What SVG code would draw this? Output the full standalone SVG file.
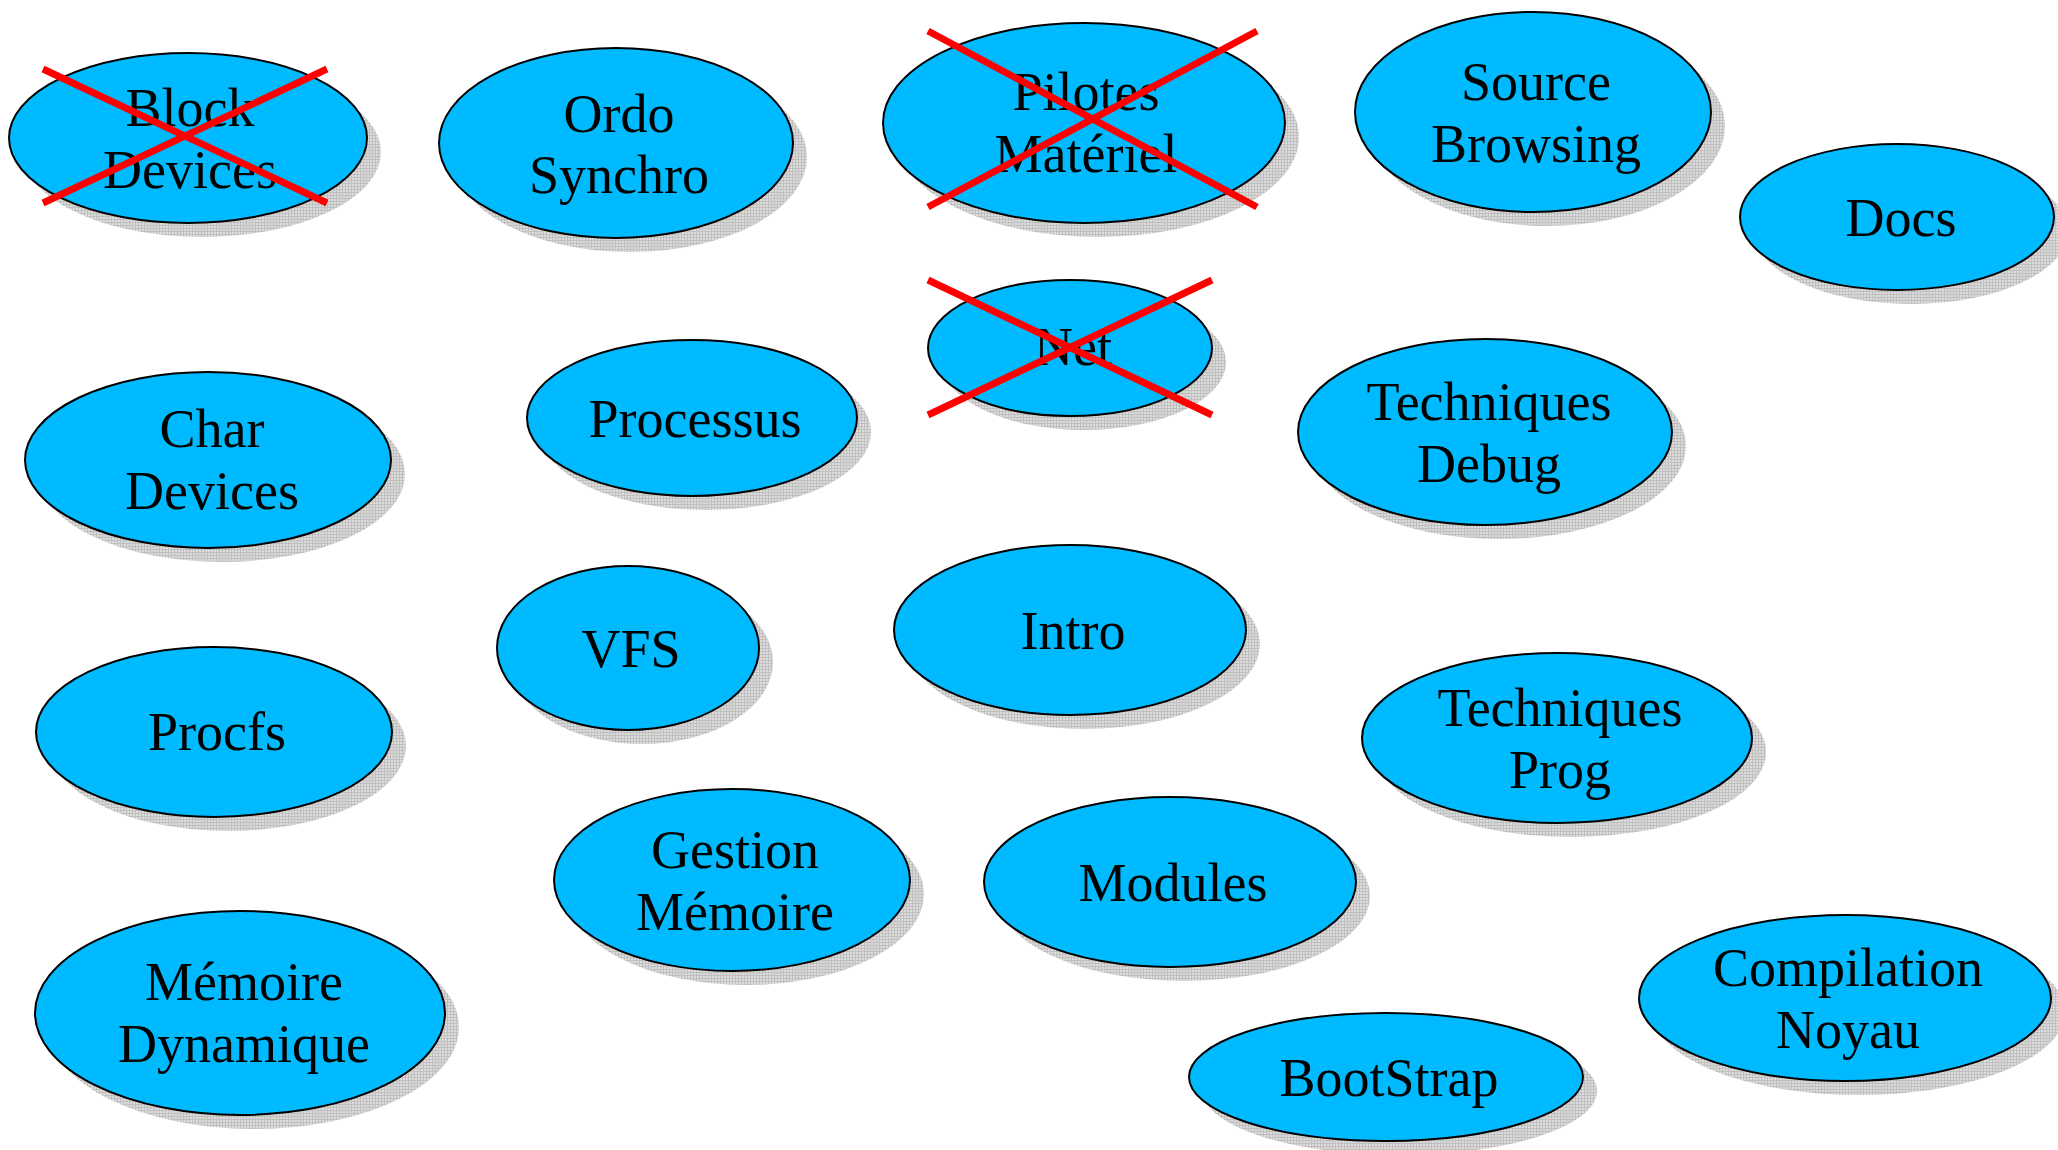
<svg xmlns="http://www.w3.org/2000/svg" width="2058" height="1150" viewBox="0 0 2058 1150">
<style>
.sh{fill:url(#hatch)}
.nd{fill:#00BAFF;stroke:#000;stroke-width:2}
.t{font-family:"Liberation Serif","Times New Roman",serif;font-size:54px;fill:#000;text-anchor:middle}
.x{stroke:#FF0000;stroke-width:7;fill:none}
</style>
<defs>
<pattern id="hatch" width="3" height="3" patternUnits="userSpaceOnUse">
<rect width="3" height="3" fill="#dcdcdc"/>
<rect width="3" height="1" fill="#c0c0c0"/>
<rect width="1" height="3" fill="#c0c0c0"/>
</pattern>
</defs>
<rect width="2058" height="1150" fill="#fff"/>
<g id="block-devices">
<ellipse class="sh" cx="202" cy="152" rx="179" ry="85"/>
<ellipse class="nd" cx="188" cy="138" rx="179" ry="85"/>
<text class="t" x="190" y="126">Block</text>
<text class="t" x="190" y="188">Devices</text>
<line class="x" x1="43" y1="69" x2="327" y2="203"/>
<line class="x" x1="43" y1="203" x2="327" y2="69"/>
</g>
<g id="ordo-synchro">
<ellipse class="sh" cx="630" cy="157" rx="177" ry="95"/>
<ellipse class="nd" cx="616" cy="143" rx="177" ry="95"/>
<text class="t" x="619" y="132">Ordo</text>
<text class="t" x="619" y="193">Synchro</text>
</g>
<g id="pilotes-materiel">
<ellipse class="sh" cx="1098" cy="137" rx="201" ry="100"/>
<ellipse class="nd" cx="1084" cy="123" rx="201" ry="100"/>
<text class="t" x="1086" y="110">Pilotes</text>
<text class="t" x="1086" y="172">Matériel</text>
<line class="x" x1="928" y1="31" x2="1257" y2="207"/>
<line class="x" x1="928" y1="207" x2="1257" y2="31"/>
</g>
<g id="source-browsing">
<ellipse class="sh" cx="1547" cy="126" rx="178" ry="100"/>
<ellipse class="nd" cx="1533" cy="112" rx="178" ry="100"/>
<text class="t" x="1536" y="100">Source</text>
<text class="t" x="1536" y="162">Browsing</text>
</g>
<g id="docs">
<ellipse class="sh" cx="1911" cy="231" rx="157" ry="73"/>
<ellipse class="nd" cx="1897" cy="217" rx="157" ry="73"/>
<text class="t" x="1901" y="236">Docs</text>
</g>
<g id="net">
<ellipse class="sh" cx="1084" cy="362" rx="142" ry="68"/>
<ellipse class="nd" cx="1070" cy="348" rx="142" ry="68"/>
<text class="t" x="1073" y="365">Net</text>
<line class="x" x1="928" y1="280" x2="1212" y2="415"/>
<line class="x" x1="928" y1="415" x2="1212" y2="280"/>
</g>
<g id="char-devices">
<ellipse class="sh" cx="222" cy="474" rx="183" ry="88"/>
<ellipse class="nd" cx="208" cy="460" rx="183" ry="88"/>
<text class="t" x="212" y="447">Char</text>
<text class="t" x="212" y="509">Devices</text>
</g>
<g id="processus">
<ellipse class="sh" cx="706" cy="432" rx="165" ry="78"/>
<ellipse class="nd" cx="692" cy="418" rx="165" ry="78"/>
<text class="t" x="695" y="437">Processus</text>
</g>
<g id="techniques-debug">
<ellipse class="sh" cx="1499" cy="446" rx="187" ry="93"/>
<ellipse class="nd" cx="1485" cy="432" rx="187" ry="93"/>
<text class="t" x="1489" y="420">Techniques</text>
<text class="t" x="1489" y="482">Debug</text>
</g>
<g id="vfs">
<ellipse class="sh" cx="642" cy="662" rx="131" ry="82"/>
<ellipse class="nd" cx="628" cy="648" rx="131" ry="82"/>
<text class="t" x="631" y="667">VFS</text>
</g>
<g id="intro">
<ellipse class="sh" cx="1084" cy="644" rx="176" ry="85"/>
<ellipse class="nd" cx="1070" cy="630" rx="176" ry="85"/>
<text class="t" x="1073" y="649">Intro</text>
</g>
<g id="procfs">
<ellipse class="sh" cx="228" cy="746" rx="178" ry="85"/>
<ellipse class="nd" cx="214" cy="732" rx="178" ry="85"/>
<text class="t" x="217" y="750">Procfs</text>
</g>
<g id="techniques-prog">
<ellipse class="sh" cx="1571" cy="752" rx="195" ry="85"/>
<ellipse class="nd" cx="1557" cy="738" rx="195" ry="85"/>
<text class="t" x="1560" y="726">Techniques</text>
<text class="t" x="1560" y="788">Prog</text>
</g>
<g id="gestion-memoire">
<ellipse class="sh" cx="746" cy="894" rx="178" ry="91"/>
<ellipse class="nd" cx="732" cy="880" rx="178" ry="91"/>
<text class="t" x="735" y="868">Gestion</text>
<text class="t" x="735" y="930">Mémoire</text>
</g>
<g id="modules">
<ellipse class="sh" cx="1184" cy="896" rx="186" ry="85"/>
<ellipse class="nd" cx="1170" cy="882" rx="186" ry="85"/>
<text class="t" x="1173" y="901">Modules</text>
</g>
<g id="memoire-dynamique">
<ellipse class="sh" cx="254" cy="1027" rx="205" ry="102"/>
<ellipse class="nd" cx="240" cy="1013" rx="205" ry="102"/>
<text class="t" x="244" y="1000">Mémoire</text>
<text class="t" x="244" y="1062">Dynamique</text>
</g>
<g id="compilation-noyau">
<ellipse class="sh" cx="1859" cy="1012" rx="206" ry="83"/>
<ellipse class="nd" cx="1845" cy="998" rx="206" ry="83"/>
<text class="t" x="1848" y="986">Compilation</text>
<text class="t" x="1848" y="1048">Noyau</text>
</g>
<g id="bootstrap">
<ellipse class="sh" cx="1400" cy="1091" rx="197" ry="64"/>
<ellipse class="nd" cx="1386" cy="1077" rx="197" ry="64"/>
<text class="t" x="1389" y="1096">BootStrap</text>
</g>
<g id="connectors"></g>
</svg>
